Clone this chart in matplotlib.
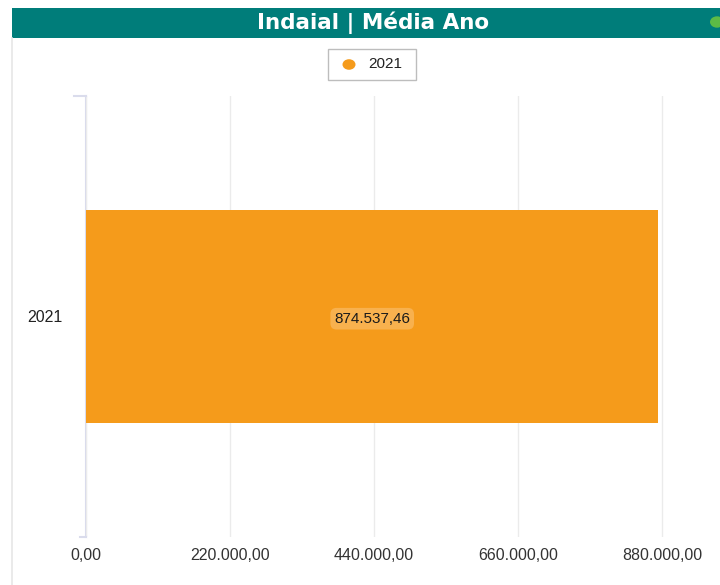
import matplotlib
matplotlib.use("Agg")
import matplotlib.pyplot as plt
from matplotlib.patches import Rectangle, Circle
from matplotlib.ticker import FuncFormatter
from matplotlib import font_manager

categories = ["2021"]
values = [874537.46]
xticks = [0, 220000, 440000, 660000, 880000]
title = "Indaial | Média Ano"
legend_label = "2021"

BAR = "#F59B1B"
TEAL = "#007D7A"

def br(v, dec=2):
    s = f"{v:,.{dec}f}"
    return s.replace(",", "X").replace(".", ",").replace("X", ".")

names = {f.name for f in font_manager.fontManager.ttflist}
title_font = "Liberation Sans Narrow" if "Liberation Sans Narrow" in names else "DejaVu Sans"
body_font = "Liberation Sans" if "Liberation Sans" in names else "DejaVu Sans"

W, H = 720, 585
fig = plt.figure(figsize=(W / 100, H / 100), dpi=100)
fig.patch.set_facecolor("white")

def fx(px): return px / W
def fy(py): return 1 - py / H

# title bar
fig.add_artist(Rectangle((fx(12), fy(38)), fx(720) - fx(12), fy(8) - fy(38),
                         transform=fig.transFigure, facecolor=TEAL, edgecolor="none"))
fig.text(fx(373), fy(23), title, color="white", fontsize=15.5, fontweight="bold",
         family=title_font, ha="center", va="center")
fig.add_artist(Circle((fx(717), fy(22)), 7 / W, transform=fig.transFigure,
                      facecolor="#5DBB46", edgecolor="none"))
fig.add_artist(plt.Line2D([fx(12), fx(12)], [fy(38), fy(585)], transform=fig.transFigure,
                          color="#E6E6E6", lw=1.2))

# legend box
fig.add_artist(Rectangle((fx(328), fy(80)), fx(416) - fx(328), fy(49) - fy(80),
                         transform=fig.transFigure, facecolor="white", edgecolor="#BDBDBD", lw=1))
fig.add_artist(Circle((fx(349), fy(64.5)), 6.5 / W, transform=fig.transFigure,
                      facecolor=BAR, edgecolor="none"))
fig.text(fx(368), fy(64.5), legend_label, fontsize=11, family=body_font,
         color="#222222", ha="left", va="center")

# axes
x0, x1 = 86, 700
xmax = 880000 * (x1 - x0) / (662 - x0)
ax = fig.add_axes([fx(x0), fy(537), fx(x1) - fx(x0), fy(96) - fy(537)])
ax.set_xlim(0, xmax)
ax.set_ylim(-1, 1)
ypos = list(range(len(categories)))
ax.barh(ypos, values, height=0.964, color=BAR, zorder=2)
for y, v in zip(ypos, values):
    ax.text(v / 2, y - 0.01, br(v), ha="center", va="center", fontsize=11, family=body_font,
            color="#1a1a1a", zorder=3,
            bbox=dict(boxstyle="round,pad=0.25,rounding_size=0.4", facecolor="#F8B14E",
                      edgecolor="none"))
ax.set_yticks(ypos)
ax.set_yticklabels(categories, fontsize=11.5, family=body_font, color="#222222")
ax.set_xticks(xticks)
ax.xaxis.set_major_formatter(FuncFormatter(lambda v, p: br(v)))
for lab in ax.get_xticklabels():
    lab.set_fontsize(11.5)
    lab.set_family(body_font)
    lab.set_color("#333333")
ax.tick_params(axis="both", length=0)
ax.tick_params(axis="x", pad=8)
ax.tick_params(axis="y", pad=17)
ax.grid(axis="x", color="#EBEBEB", lw=1, zorder=0)
for s in ["top", "right", "bottom"]:
    ax.spines[s].set_visible(False)
ax.spines["left"].set_color("#DADCEC")
ax.spines["left"].set_linewidth(1.5)
ax.spines["left"].set_zorder(1)
off = 12 / (fx(x1) - fx(x0)) / W
ax.plot([-off, 0], [1, 1], transform=ax.transAxes, color="#DADCEC", lw=1.5, clip_on=False)
ax.plot([-off * 0.5, 0], [0, 0], transform=ax.transAxes, color="#DADCEC", lw=1.5, clip_on=False)

fig.savefig("out.png", dpi=100)
